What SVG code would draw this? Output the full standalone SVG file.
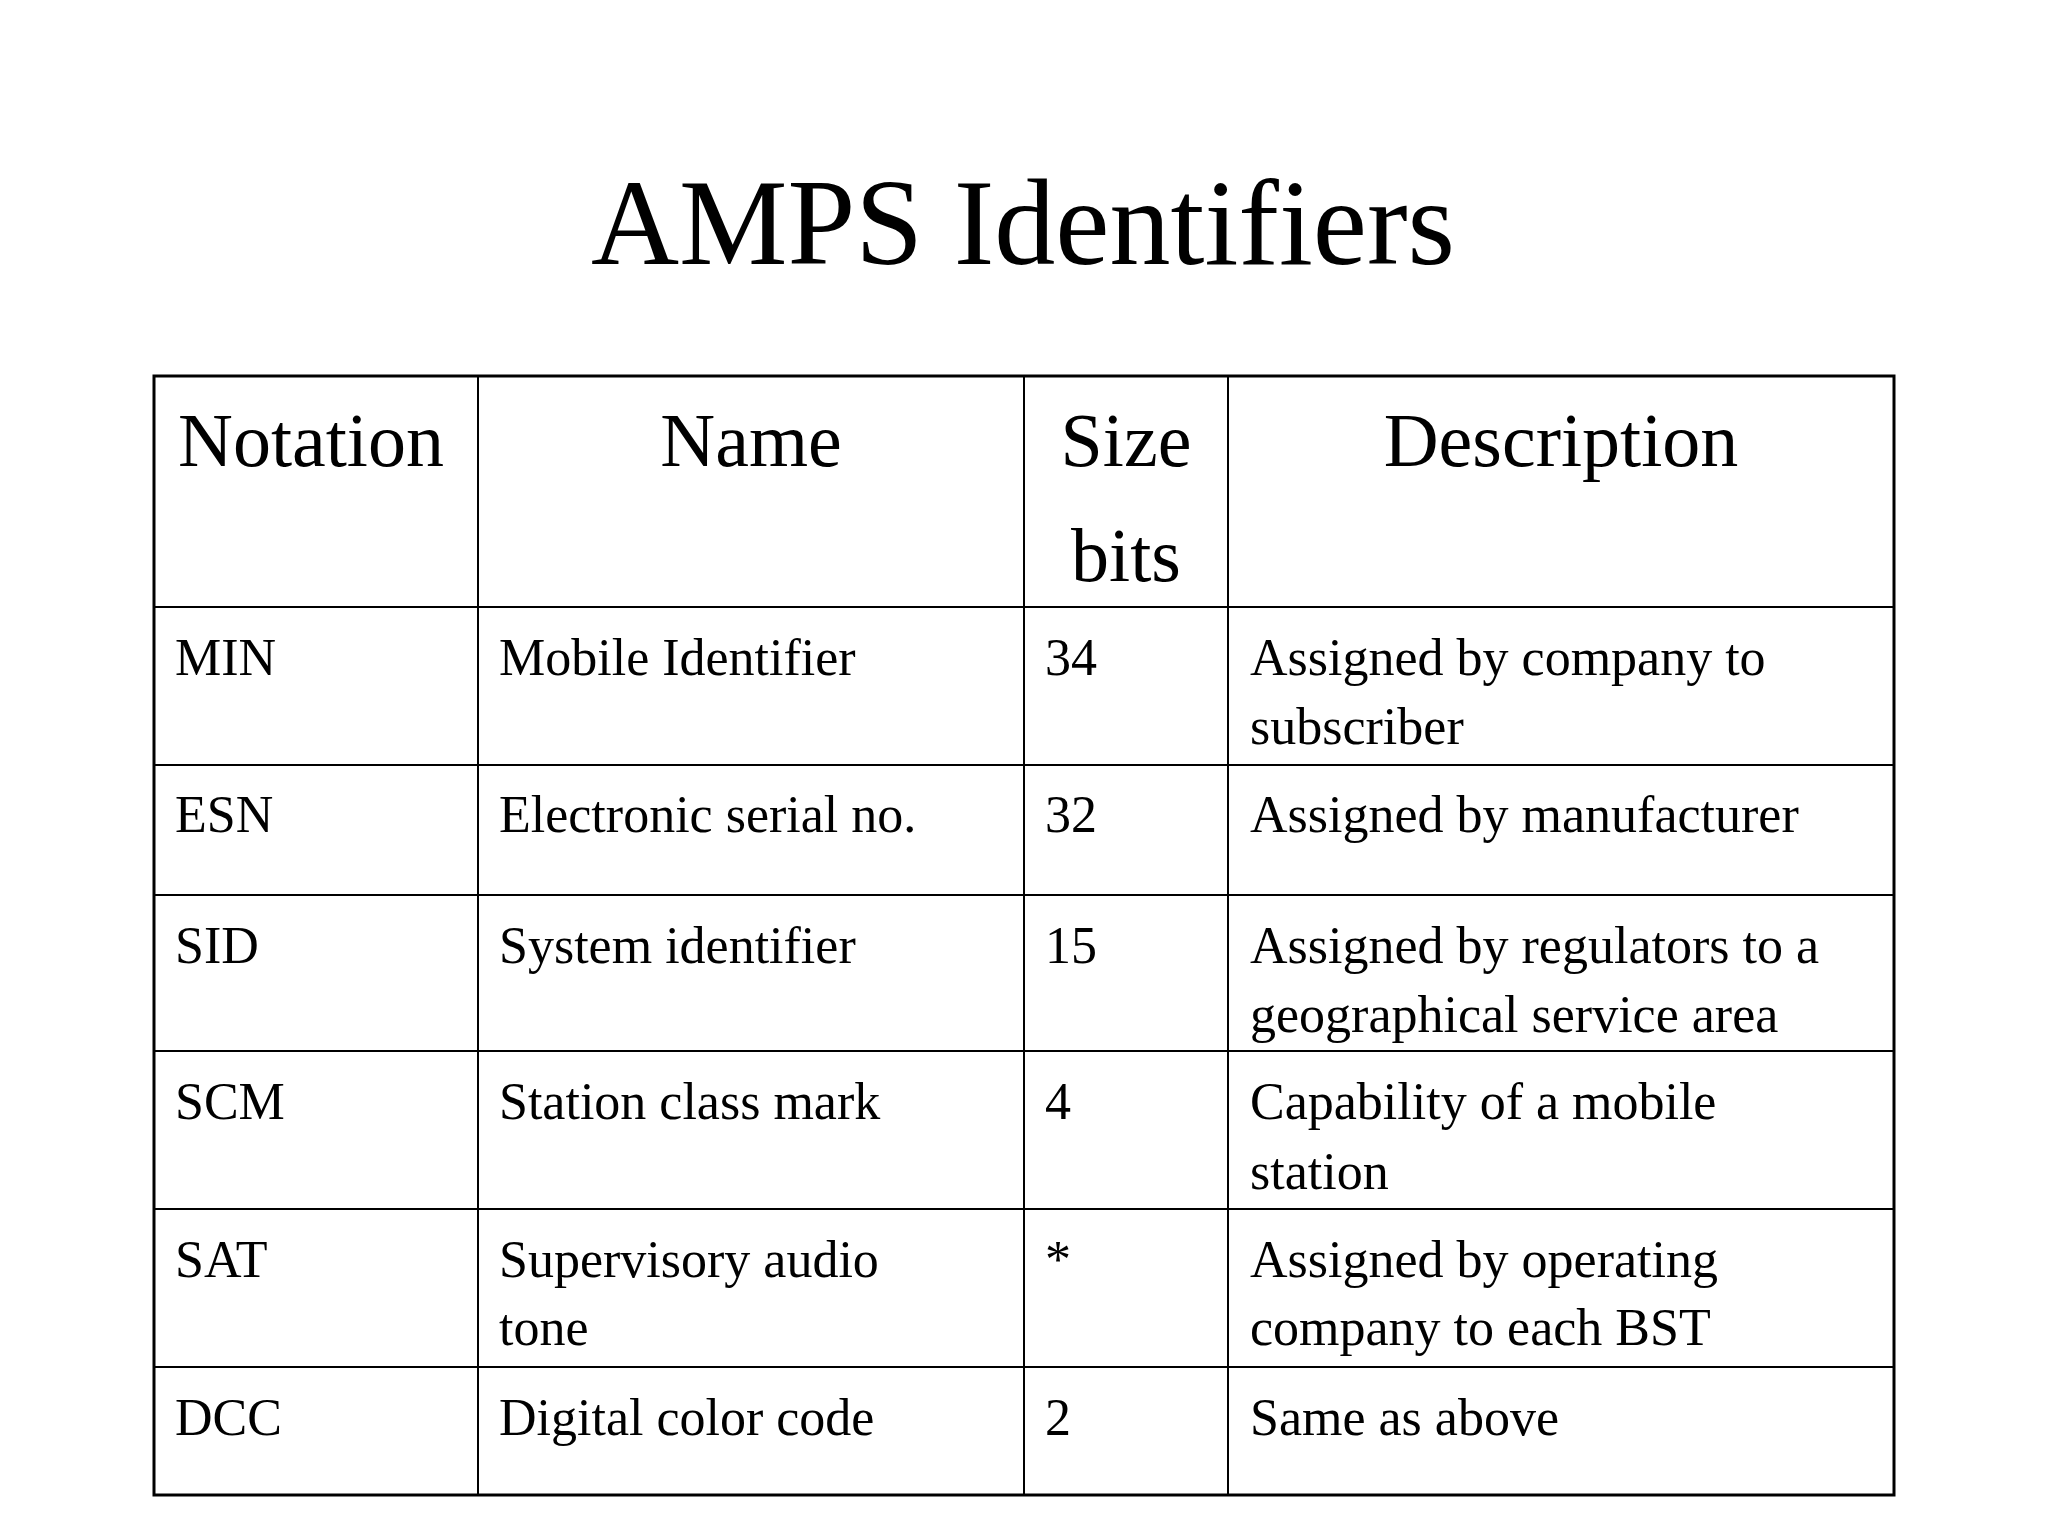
<svg xmlns="http://www.w3.org/2000/svg" width="2048" height="1536" viewBox="0 0 2048 1536">
<style>
text{font-family:"Liberation Serif","Times New Roman",serif;fill:#000}
.h{font-size:76px}
.b{font-size:52px}
.c{text-anchor:middle}
line{stroke:#000;stroke-width:2}
</style>
<rect width="2048" height="1536" fill="#fff"/>
<text x="1023" y="264" class="c" font-size="122">AMPS Identifiers</text>
<g id="grid">
<rect x="154" y="376" width="1740" height="1119" fill="none" stroke="#000" stroke-width="3"/>
<line x1="478" y1="376" x2="478" y2="1495"/>
<line x1="1024" y1="376" x2="1024" y2="1495"/>
<line x1="1228" y1="376" x2="1228" y2="1495"/>
<line x1="154" y1="607" x2="1894" y2="607"/>
<line x1="154" y1="765" x2="1894" y2="765"/>
<line x1="154" y1="895" x2="1894" y2="895"/>
<line x1="154" y1="1051" x2="1894" y2="1051"/>
<line x1="154" y1="1209" x2="1894" y2="1209"/>
<line x1="154" y1="1367" x2="1894" y2="1367"/>
</g>
<g id="header" class="h">
<text x="178" y="466" class="h">Notation</text>
<text x="751" y="466" class="h c">Name</text>
<text x="1126" y="466" class="h c">Size</text>
<text x="1126" y="581" class="h c">bits</text>
<text x="1561" y="466" class="h c">Description</text>
</g>
<g id="rows" class="b">
<text x="175" y="675" class="b">MIN</text><text x="499" y="675" class="b">Mobile Identifier</text><text x="1045" y="675" class="b">34</text><text x="1250" y="675" class="b">Assigned by company to</text><text x="1250" y="744" class="b">subscriber</text>
<text x="175" y="832" class="b">ESN</text><text x="499" y="832" class="b">Electronic serial no.</text><text x="1045" y="832" class="b">32</text><text x="1250" y="832" class="b">Assigned by manufacturer</text>
<text x="175" y="963" class="b">SID</text><text x="499" y="963" class="b">System identifier</text><text x="1045" y="963" class="b">15</text><text x="1250" y="963" class="b">Assigned by regulators to a</text><text x="1250" y="1032" class="b">geographical service area</text>
<text x="175" y="1119" class="b">SCM</text><text x="499" y="1119" class="b">Station class mark</text><text x="1045" y="1119" class="b">4</text><text x="1250" y="1119" class="b">Capability of a mobile</text><text x="1250" y="1189" class="b">station</text>
<text x="175" y="1277" class="b">SAT</text><text x="499" y="1277" class="b">Supervisory audio</text><text x="499" y="1345" class="b">tone</text><text x="1045" y="1277" class="b">*</text><text x="1250" y="1277" class="b">Assigned by operating</text><text x="1250" y="1345" class="b">company to each BST</text>
<text x="175" y="1435" class="b">DCC</text><text x="499" y="1435" class="b">Digital color code</text><text x="1045" y="1435" class="b">2</text><text x="1250" y="1435" class="b">Same as above</text>
</g>
</svg>
